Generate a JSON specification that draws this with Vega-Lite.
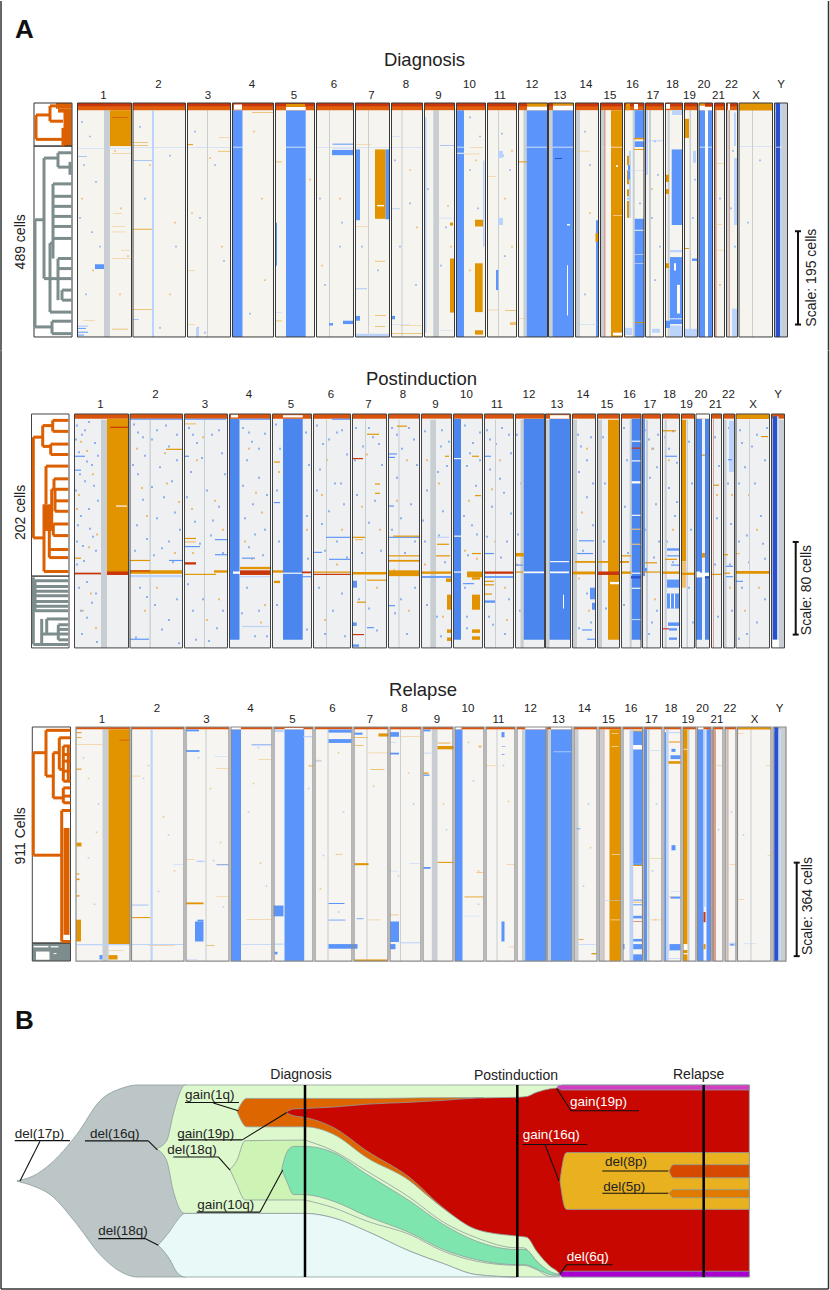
{"$schema":"https://vega.github.io/schema/vega-lite/v6.json","padding":0,"spacing":0,"bounds":"flush","background":"white",
"resolve":{"scale":{"color":"independent"}},
"config":{"view":{"stroke":null},"axis":{"disable":true},"legend":{"disable":true},"font":"Liberation Sans","text":{"color":"#222"}},
"datasets":{
"chroms":[{"n":"1","x":77.5,"x2":131.5,"t":1,"m":103.5},{"n":"2","x":133,"x2":185.5,"t":2,"m":158.5},{"n":"3","x":187.5,"x2":230.5,"t":1,"m":208},{"n":"4","x":232.5,"x2":273.5,"t":2,"m":252},{"n":"5","x":275.5,"x2":314.5,"t":1,"m":294},{"n":"6","x":316.5,"x2":353.5,"t":2,"m":334},{"n":"7","x":355.5,"x2":389.5,"t":1,"m":371.5},{"n":"8","x":391.5,"x2":422.5,"t":2,"m":406},{"n":"9","x":424.5,"x2":454.5,"t":1,"m":438.5},{"n":"10","x":456.5,"x2":485.5,"t":2,"m":469.5},{"n":"11","x":487.5,"x2":516.5,"t":1,"m":500},{"n":"12","x":518.5,"x2":547.5,"t":2,"m":532},{"n":"13","x":548.5,"x2":573.5,"t":1,"m":560},{"n":"14","x":575.5,"x2":598.5,"t":2,"m":586},{"n":"15","x":600.5,"x2":622.5,"t":1,"m":610},{"n":"16","x":624.5,"x2":644,"t":2,"m":632.5},{"n":"17","x":645.5,"x2":663.5,"t":1,"m":653},{"n":"18","x":665.5,"x2":682.5,"t":2,"m":672.5},{"n":"19","x":684.5,"x2":697.5,"t":1,"m":689.5},{"n":"20","x":699,"x2":712.5,"t":2,"m":704},{"n":"21","x":714.5,"x2":724.5,"t":1,"m":718.5},{"n":"22","x":726.5,"x2":737.5,"t":2,"m":731.5},{"n":"X","x":739,"x2":772.5,"t":1,"m":756},{"n":"Y","x":774.5,"x2":787.5,"t":2,"m":781}],
"cens":[{"x":104,"x2":110},{"x":152.5,"x2":153.8},{"x":207,"x2":208},{"x":329,"x2":330},{"x":368,"x2":369},{"x":401.5,"x2":402.5},{"x":433.3,"x2":439},{"x":498,"x2":499},{"x":523.5,"x2":526.7},{"x":548.5,"x2":552.5},{"x":575.5,"x2":580},{"x":600.5,"x2":605},{"x":632.7,"x2":634.7},{"x":649,"x2":651},{"x":667.7,"x2":669.7},{"x":689.5,"x2":691},{"x":726.5,"x2":729.5},{"x":752,"x2":753},{"x":774.5,"x2":775.7},{"x":782,"x2":787.5}],
"solids":[{"x":232.5,"x2":242.5},{"x":286,"x2":305.7},{"x":456.5,"x2":464},{"x":526.7,"x2":547.5},{"x":552.5,"x2":573.5},{"x":699,"x2":705},{"x":708,"x2":712.5}],
"fish":[
{"k":"grey","x":17,"y":49.9,"y2":50.1},{"k":"grey","x":33,"y":47.4,"y2":52.6},{"k":"grey","x":50,"y":41.3,"y2":57},{"k":"grey","x":77,"y":25.6,"y2":72.6},{"k":"grey","x":100,"y":8.2,"y2":88.3},{"k":"grey","x":123,"y":1.5,"y2":97.9},{"k":"grey","x":137,"y":0,"y2":100},{"k":"grey","x":186,"y":0,"y2":100},
{"k":"g1","x":156.7,"y":33.1,"y2":33.4},{"k":"g1","x":166.7,"y":29,"y2":39.5},{"k":"g1","x":173.3,"y":15.2,"y2":55.2},{"k":"g1","x":180,"y":3.8,"y2":64.8},{"k":"g1","x":185,"y":0,"y2":66.9},{"k":"g1","x":305,"y":0,"y2":66.9},{"k":"g1","x":333.3,"y":0,"y2":69.2},{"k":"g1","x":366.7,"y":0,"y2":76.1},{"k":"g1","x":410,"y":0,"y2":86.6},{"k":"g1","x":443.3,"y":0,"y2":93},{"k":"g1","x":476.7,"y":0,"y2":98.8},{"k":"g1","x":516.7,"y":0,"y2":100},{"k":"g1","x":560,"y":0,"y2":100},
{"k":"cy","x":158.3,"y":83.3,"y2":83.5},{"k":"cy","x":170,"y":76,"y2":91},{"k":"cy","x":176.7,"y":70.9,"y2":97.4},{"k":"cy","x":185,"y":66.9,"y2":100},{"k":"cy","x":305,"y":66.9,"y2":100},{"k":"cy","x":333.3,"y":69.2,"y2":100},{"k":"cy","x":366.7,"y":76.1,"y2":100},{"k":"cy","x":410,"y":86.6,"y2":100},{"k":"cy","x":443.3,"y":93,"y2":100},{"k":"cy","x":476.7,"y":98.8,"y2":100},{"k":"cy","x":516.7,"y":100,"y2":100},
{"k":"or","x":237.3,"y":13.6,"y2":14},{"k":"or","x":246.7,"y":7,"y2":21.8},{"k":"or","x":305,"y":7,"y2":21.8},{"k":"or","x":333.3,"y":7,"y2":25.6},{"k":"or","x":366.7,"y":7,"y2":37.8},{"k":"or","x":410,"y":6.8,"y2":50},{"k":"or","x":430,"y":6.7,"y2":58.7},{"k":"or","x":456.7,"y":6.6,"y2":69.2},{"k":"or","x":483.3,"y":6.6,"y2":76},
{"k":"g2","x":230,"y":43.9,"y2":44.1},{"k":"g2","x":236.7,"y":39.5,"y2":51.7},{"k":"g2","x":245,"y":29,"y2":59.9},{"k":"g2","x":305,"y":28.7,"y2":59.9},
{"k":"g3","x":305,"y":28.7,"y2":59.9},{"k":"g3","x":333.3,"y":34.3,"y2":63.9},{"k":"g3","x":366.7,"y":44.8,"y2":70.9},{"k":"g3","x":410,"y":58.7,"y2":77.9},{"k":"g3","x":443.3,"y":71.4,"y2":86.6},{"k":"g3","x":476.7,"y":79.6,"y2":91.8},{"k":"g3","x":516.7,"y":84.8,"y2":93.9},{"k":"g3","x":523.3,"y":84.8,"y2":93.9},{"k":"g3","x":536.7,"y":91.8,"y2":96.2},{"k":"g3","x":550,"y":97.9,"y2":99.7},{"k":"g3","x":560,"y":99,"y2":99.2},
{"k":"te","x":281.7,"y":43.9,"y2":44.1},{"k":"te","x":286.7,"y":35.2,"y2":50},{"k":"te","x":293.3,"y":32,"y2":57},{"k":"te","x":305,"y":32,"y2":57.1},{"k":"te","x":333.3,"y":35.2,"y2":60.5},{"k":"te","x":366.7,"y":46.5,"y2":68.3},{"k":"te","x":410,"y":60.5,"y2":77},{"k":"te","x":443.3,"y":72.6,"y2":85.7},{"k":"te","x":476.7,"y":81.4,"y2":91},{"k":"te","x":516.7,"y":85.7,"y2":93.6},{"k":"te","x":525,"y":85.7,"y2":93.6},{"k":"te","x":538.3,"y":92.7,"y2":96.2},{"k":"te","x":553.3,"y":97.9,"y2":99.1},{"k":"te","x":560,"y":98.6,"y2":98.9},
{"k":"re","x":286.7,"y":13.8,"y2":14.6},{"k":"re","x":293.3,"y":12.5,"y2":16},{"k":"re","x":305,"y":12.2,"y2":16.9},{"k":"re","x":333.3,"y":11.5,"y2":22.1},{"k":"re","x":366.7,"y":10,"y2":34.3},{"k":"re","x":410,"y":9,"y2":48.3},{"k":"re","x":443.3,"y":8,"y2":64},{"k":"re","x":476.7,"y":6.8,"y2":75.3},{"k":"re","x":516.7,"y":6.4,"y2":78.7},{"k":"re","x":526.7,"y":6,"y2":79.3},{"k":"re","x":536.7,"y":3.8,"y2":86.6},{"k":"re","x":550,"y":2,"y2":94.4},{"k":"re","x":558,"y":1.5,"y2":97.4},{"k":"re","x":562,"y":0,"y2":100},{"k":"re","x":749.3,"y":0,"y2":100},
{"k":"go","x":560,"y":49.9,"y2":50.1},{"k":"go","x":565,"y":36,"y2":64},{"k":"go","x":566.7,"y":35.2,"y2":64.8},{"k":"go","x":749.3,"y":35.2,"y2":64.8},
{"k":"d8","x":669.3,"y":44.6,"y2":45},{"k":"d8","x":673.3,"y":41.5,"y2":48.3},{"k":"d8","x":749.3,"y":41.5,"y2":48.3},
{"k":"d5","x":669.3,"y":56.3,"y2":56.5},{"k":"d5","x":673.3,"y":54.5,"y2":58.7},{"k":"d5","x":749.3,"y":54.5,"y2":58.7},
{"k":"pi","x":557,"y":0.9,"y2":1},{"k":"pi","x":562,"y":0,"y2":2.6},{"k":"pi","x":749.3,"y":0,"y2":2.6},
{"k":"pu","x":559,"y":98.3,"y2":98.4},{"k":"pu","x":563,"y":97,"y2":100},{"k":"pu","x":749.3,"y":97,"y2":100}],
"lead":[{"x":14.7,"x2":70,"y":29,"y2":29},{"x":40,"x2":20,"y":29.3,"y2":50},{"x":85,"x2":148.3,"y":29.1,"y2":29.1},{"x":148.3,"x2":157.3,"y":29.1,"y2":33.8},{"x":98.3,"x2":145,"y":80,"y2":80},{"x":145,"x2":158.3,"y":80,"y2":83.5},{"x":185,"x2":239,"y":9.1,"y2":9.1},{"x":213.3,"x2":238.3,"y":9.4,"y2":13.4},{"x":178.3,"x2":242.3,"y":28.6,"y2":28.6},{"x":242.3,"x2":286.7,"y":28.6,"y2":14.3},{"x":173.3,"x2":218.3,"y":37.5,"y2":37.5},{"x":218.3,"x2":230,"y":37.5,"y2":44.3},{"x":196.7,"x2":260,"y":66.2,"y2":66.2},{"x":260,"x2":282.7,"y":66.2,"y2":44.3},{"x":571,"x2":639,"y":13.4,"y2":13.4},{"x":571,"x2":556.7,"y":13.4,"y2":1.8},{"x":522.7,"x2":587.3,"y":31,"y2":31},{"x":545,"x2":559,"y":31,"y2":50},{"x":602.3,"x2":668.3,"y":44.8,"y2":44.8},{"x":602.3,"x2":668.3,"y":56.4,"y2":56.4},{"x":566.7,"x2":612.7,"y":93.6,"y2":93.6},{"x":566.7,"x2":560,"y":93.6,"y2":98.4}]
},
"vconcat":[
{"width":830,"height":350,"layer":[
{"data":{"name":"chroms"},"mark":{"type":"rect","fill":"#f5f4ef"},"encoding":{"x":{"field":"x","type":"quantitative","scale":{"domain":[0,830],"nice":false,"zero":false}},"x2":{"field":"x2"},"y":{"datum":0,"scale":{"domain":[518.3,-213.2],"nice":false,"zero":false}},"y2":{"datum":489}}},
{"data":{"values":[{"x":82,"y":40},{"x":90,"y":70},{"x":84,"y":130},{"x":96,"y":165},{"x":80,"y":240},{"x":92,"y":270},{"x":100,"y":300},{"x":86,"y":400},{"x":140,"y":50},{"x":170,"y":110},{"x":145,"y":200},{"x":176,"y":300},{"x":160,"y":470},{"x":195,"y":60},{"x":215,"y":130},{"x":200,"y":240},{"x":224,"y":330},{"x":198,"y":470},{"x":205,"y":480},{"x":250,"y":440},{"x":320,"y":200},{"x":342,"y":250},{"x":325,"y":380},{"x":340,"y":300},{"x":362,"y":300},{"x":378,"y":350},{"x":395,"y":120},{"x":410,"y":210},{"x":416,"y":380},{"x":400,"y":300},{"x":428,"y":180},{"x":446,"y":260},{"x":441,"y":340},{"x":470,"y":140},{"x":478,"y":220},{"x":480,"y":70},{"x":470,"y":30},{"x":502,"y":64},{"x":503,"y":110},{"x":500,"y":250},{"x":505,"y":320},{"x":510,"y":140},{"x":585,"y":60},{"x":590,"y":130},{"x":585,"y":400},{"x":628,"y":200},{"x":640,"y":210},{"x":655,"y":80},{"x":658,"y":150},{"x":652,"y":240},{"x":660,"y":300},{"x":655,"y":370},{"x":650,"y":470},{"x":695,"y":160},{"x":693,"y":240},{"x":720,"y":200},{"x":733,"y":100},{"x":735,"y":150},{"x":731,"y":220},{"x":735,"y":300},{"x":748,"y":250},{"x":760,"y":120}]},"mark":{"type":"square","size":3,"color":"#7fa8f5","opacity":0.8},"encoding":{"x":{"field":"x","type":"quantitative"},"y":{"field":"y","type":"quantitative"}}},
{"data":{"values":[{"x":115,"y":100},{"x":121,"y":220},{"x":128,"y":320},{"x":120,"y":400},{"x":93,"y":350},{"x":82,"y":200},{"x":150,"y":130},{"x":175,"y":250},{"x":170,"y":400},{"x":210,"y":115},{"x":192,"y":230},{"x":222,"y":300},{"x":254,"y":60},{"x":262,"y":200},{"x":265,"y":370},{"x":310,"y":160},{"x":340,"y":200},{"x":322,"y":340},{"x":410,"y":140},{"x":417,"y":260},{"x":448,"y":215},{"x":451,"y":300},{"x":476,"y":120},{"x":470,"y":350},{"x":505,"y":200},{"x":512,"y":100},{"x":512,"y":300},{"x":590,"y":230},{"x":652,"y":180},{"x":720,"y":380}]},"mark":{"type":"square","size":3,"color":"#efb566","opacity":0.85},"encoding":{"x":{"field":"x","type":"quantitative"},"y":{"field":"y","type":"quantitative"}}},
{"data":{"name":"cens"},"mark":{"type":"rect","fill":"#c8ced2"},"encoding":{"x":{"field":"x","type":"quantitative"},"x2":{"field":"x2"},"y":{"datum":15},"y2":{"datum":489}}},
{"data":{"name":"solids"},"mark":{"type":"rect","fill":"#5b95fb"},"encoding":{"x":{"field":"x","type":"quantitative"},"x2":{"field":"x2"},"y":{"datum":15},"y2":{"datum":489}}},
{"data":{"name":"chroms"},"mark":{"type":"rect","fill":"#e0600e"},"encoding":{"x":{"field":"x","type":"quantitative"},"x2":{"field":"x2"},"y":{"datum":0},"y2":{"datum":15}}},
{"data":{"name":"chroms"},"mark":{"type":"rect","fill":"#c9360a"},"encoding":{"x":{"field":"x","type":"quantitative"},"x2":{"field":"x2"},"y":{"datum":0},"y2":{"datum":7}}},
{"data":{"values":[
{"s":"W","x":234,"x2":242,"y":3,"y2":14},{"s":"W","x":286,"x2":305.7,"y":8,"y2":15},{"s":"G","x":286,"x2":305,"y":2,"y2":8},{"s":"W","x":527,"x2":547.5,"y":7,"y2":15},{"s":"G","x":527,"x2":547.5,"y":0,"y2":7},{"s":"W","x":553,"x2":573.5,"y":5,"y2":15},{"s":"G","x":553,"x2":573.5,"y":0,"y2":5},{"s":"G","x":739,"x2":772.5,"y":0,"y2":15},{"s":"W","x":699,"x2":705,"y":5,"y2":15},{"s":"G","x":699,"x2":705,"y":0,"y2":5},{"s":"W","x":705,"x2":712.5,"y":8,"y2":15},{"s":"G","x":626,"x2":630,"y":0,"y2":15},{"s":"W","x":634,"x2":638,"y":2,"y2":13},{"s":"W","x":666,"x2":670,"y":2,"y2":12},{"s":"W","x":728,"x2":730,"y":0,"y2":15},
{"s":"G","x":611,"x2":622.3,"y":15,"y2":489},{"s":"G","x":110,"x2":131.5,"y":15,"y2":90},{"s":"A","x":112,"x2":128,"y":30,"y2":31},
{"s":"W","x":232.5,"x2":242.5,"y":91.5,"y2":93},{"s":"W","x":286,"x2":305.7,"y":91.5,"y2":93},{"s":"W","x":456.5,"x2":464,"y":91.5,"y2":93},{"s":"W","x":526.7,"x2":547.5,"y":91.5,"y2":93},{"s":"W","x":552.5,"x2":573.5,"y":91.5,"y2":93},{"s":"W","x":603,"x2":622.3,"y":91.5,"y2":93},{"s":"W","x":699,"x2":712.5,"y":91.5,"y2":93},{"s":"W","x":776,"x2":782,"y":91.5,"y2":93},{"s":"l","x":739,"x2":772,"y":91,"y2":92},{"s":"l","x":77.5,"x2":131,"y":95,"y2":96},{"s":"l","x":133,"x2":230,"y":92,"y2":93},{"s":"l","x":316,"x2":422,"y":93,"y2":94},
{"s":"L","x":95,"x2":104,"y":337,"y2":347},{"s":"l","x":77.5,"x2":88,"y":465,"y2":468},{"s":"L","x":78,"x2":86,"y":470,"y2":472},{"s":"L","x":78,"x2":88,"y":478,"y2":480},{"s":"L","x":78,"x2":84,"y":484,"y2":486},{"s":"L","x":77.5,"x2":87,"y":111,"y2":112},{"s":"o","x":112,"x2":131,"y":105,"y2":106},{"s":"o","x":113,"x2":122,"y":230,"y2":231},{"s":"o","x":112,"x2":125,"y":258,"y2":259},{"s":"o","x":112,"x2":126,"y":269,"y2":270},{"s":"o","x":121,"x2":130,"y":307,"y2":308},{"s":"o","x":112,"x2":131,"y":325,"y2":326},{"s":"G","x":112,"x2":128,"y":472,"y2":473},{"s":"o","x":83,"x2":95,"y":454,"y2":455},
{"s":"G","x":133,"x2":148,"y":82,"y2":83},{"s":"G","x":133,"x2":148,"y":88,"y2":89},{"s":"L","x":133,"x2":152,"y":120,"y2":121},{"s":"G","x":133,"x2":152,"y":263,"y2":264.5},{"s":"G","x":133,"x2":153,"y":431,"y2":432},{"s":"L","x":133,"x2":139,"y":452,"y2":453},{"s":"l","x":152,"x2":154,"y":15,"y2":489},
{"s":"G","x":188,"x2":193,"y":86,"y2":88},{"s":"o","x":219,"x2":230,"y":72,"y2":73},{"s":"o","x":218,"x2":230,"y":100,"y2":102},{"s":"o","x":188,"x2":195,"y":350,"y2":351},{"s":"o","x":188,"x2":195,"y":462,"y2":463},{"s":"l","x":196,"x2":199,"y":470,"y2":489},{"s":"G","x":252,"x2":273,"y":19,"y2":20},{"s":"o","x":276,"x2":282,"y":122,"y2":124},{"s":"G","x":276,"x2":282,"y":455,"y2":456},{"s":"l","x":276,"x2":282,"y":437,"y2":438},{"s":"L","x":276,"x2":277,"y":250,"y2":340},
{"s":"L","x":332,"x2":353.5,"y":98,"y2":109},{"s":"L","x":332.5,"x2":353.5,"y":85,"y2":87},{"s":"l","x":333,"x2":353,"y":94,"y2":95},{"s":"L","x":329,"x2":333,"y":460,"y2":465},{"s":"L","x":343,"x2":353,"y":455,"y2":462},
{"s":"L","x":355.5,"x2":360,"y":97,"y2":245},{"s":"G","x":375,"x2":385.7,"y":97,"y2":242},{"s":"L","x":385.7,"x2":389.7,"y":97,"y2":243},{"s":"W","x":377,"x2":384,"y":213,"y2":216},{"s":"o","x":356,"x2":371,"y":86,"y2":87},{"s":"L","x":355.5,"x2":360,"y":445,"y2":455},{"s":"L","x":356,"x2":367,"y":388,"y2":389},{"s":"G","x":375,"x2":385,"y":330,"y2":331},{"s":"o","x":375,"x2":386,"y":443,"y2":445},{"s":"G","x":375,"x2":385,"y":467,"y2":468},{"s":"l","x":355.5,"x2":389,"y":482,"y2":489},{"s":"o","x":355.5,"x2":369,"y":257,"y2":258},
{"s":"L","x":391.5,"x2":395,"y":445,"y2":452},{"s":"l","x":392,"x2":400,"y":69,"y2":70},{"s":"l","x":392,"x2":410,"y":462,"y2":463},{"s":"o","x":400,"x2":422,"y":465,"y2":466},{"s":"G","x":392,"x2":422,"y":481,"y2":482},{"s":"l","x":391.5,"x2":400,"y":220,"y2":222},
{"s":"L","x":440,"x2":454,"y":88,"y2":89},{"s":"l","x":439,"x2":454,"y":240,"y2":241},{"s":"l","x":440,"x2":452,"y":475,"y2":476},{"s":"G","x":450,"x2":454,"y":325,"y2":438},{"s":"G","x":450,"x2":453,"y":250,"y2":256},{"s":"l","x":425,"x2":426.5,"y":30,"y2":480},
{"s":"G","x":475,"x2":482.7,"y":335,"y2":437},{"s":"G","x":475,"x2":483,"y":244,"y2":258},{"s":"G","x":475,"x2":483,"y":475,"y2":484},{"s":"o","x":464,"x2":480,"y":106,"y2":107},{"s":"o","x":470,"x2":483,"y":92,"y2":93},{"s":"W","x":457,"x2":464,"y":104,"y2":106},{"s":"l","x":483,"x2":484.5,"y":120,"y2":300},
{"s":"L","x":496,"x2":498.3,"y":349,"y2":391},{"s":"o","x":487.5,"x2":496,"y":153,"y2":154},{"s":"G","x":505,"x2":516,"y":433,"y2":434},{"s":"o","x":510,"x2":516,"y":458,"y2":464},{"s":"o","x":488,"x2":498,"y":432,"y2":433},{"s":"l","x":498,"x2":503,"y":240,"y2":255},{"s":"l","x":498,"x2":503,"y":100,"y2":115},
{"s":"G","x":518.5,"x2":527,"y":122,"y2":124},{"s":"o","x":518.5,"x2":526,"y":450,"y2":451},{"s":"W","x":567,"x2":568,"y":339,"y2":444},{"s":"W","x":567,"x2":570,"y":253,"y2":256},{"s":"D","x":555,"x2":562,"y":115,"y2":117},
{"s":"L","x":596,"x2":598.3,"y":245,"y2":489},{"s":"G","x":595.5,"x2":598,"y":272,"y2":290},{"s":"o","x":576,"x2":590,"y":100,"y2":101},{"s":"l","x":580,"x2":597,"y":462,"y2":463},
{"s":"W","x":616,"x2":618,"y":130,"y2":134},{"s":"W","x":613,"x2":622,"y":235,"y2":236},{"s":"W","x":613,"x2":622,"y":480,"y2":486},{"s":"M","x":604,"x2":605.5,"y":15,"y2":489},
{"s":"L","x":634.7,"x2":644,"y":15,"y2":73},{"s":"G","x":634,"x2":644,"y":73,"y2":76},{"s":"L","x":634.7,"x2":644,"y":80,"y2":92},{"s":"G","x":634,"x2":644,"y":96,"y2":98},{"s":"L","x":634.7,"x2":644,"y":242,"y2":489},{"s":"W","x":634.7,"x2":644,"y":265,"y2":267},{"s":"W","x":634.7,"x2":644,"y":316,"y2":317},{"s":"W","x":634.7,"x2":644,"y":335,"y2":336},{"s":"G","x":634.7,"x2":644,"y":458,"y2":460},{"s":"l","x":629,"x2":631,"y":100,"y2":240},{"s":"G","x":627,"x2":629,"y":110,"y2":130},{"s":"G","x":627,"x2":629,"y":140,"y2":170},{"s":"G","x":627,"x2":629,"y":180,"y2":195},{"s":"G","x":627,"x2":629,"y":205,"y2":240},{"s":"L","x":628,"x2":630,"y":130,"y2":160},{"s":"l","x":626,"x2":644,"y":140,"y2":141},{"s":"l","x":625,"x2":632,"y":470,"y2":485},
{"s":"l","x":645.5,"x2":648,"y":15,"y2":150},{"s":"l","x":652,"x2":660,"y":472,"y2":480},{"s":"l","x":645.5,"x2":663,"y":78,"y2":80},
{"s":"L","x":671.7,"x2":682.7,"y":97,"y2":255},{"s":"L","x":670,"x2":682.7,"y":322,"y2":450},{"s":"L","x":670,"x2":682.7,"y":452,"y2":462},{"s":"l","x":670,"x2":682.7,"y":465,"y2":489},{"s":"W","x":677,"x2":680,"y":380,"y2":440},{"s":"l","x":670,"x2":682,"y":307,"y2":312},{"s":"G","x":666,"x2":669,"y":335,"y2":345},{"s":"G","x":666,"x2":669,"y":150,"y2":165},{"s":"G","x":666,"x2":669,"y":180,"y2":190},{"s":"l","x":672,"x2":682,"y":15,"y2":25},{"s":"W","x":674,"x2":676,"y":335,"y2":350},{"s":"L","x":666,"x2":670,"y":455,"y2":470},
{"s":"G","x":685,"x2":689,"y":33,"y2":73},{"s":"G","x":685,"x2":689,"y":303,"y2":305},{"s":"l","x":693,"x2":696,"y":100,"y2":125},{"s":"L","x":692,"x2":697,"y":325,"y2":330},{"s":"l","x":685,"x2":697,"y":472,"y2":489},{"s":"G","x":705,"x2":707,"y":440,"y2":446},{"s":"W","x":705,"x2":708,"y":15,"y2":489},{"s":"M","x":714.5,"x2":716.7,"y":15,"y2":489},{"s":"o","x":717,"x2":724,"y":126,"y2":127},{"s":"o","x":717,"x2":724,"y":307,"y2":308},{"s":"o","x":717,"x2":722,"y":254,"y2":255},{"s":"M","x":729,"x2":730,"y":15,"y2":489},{"s":"l","x":734,"x2":737,"y":115,"y2":255},{"s":"l","x":732,"x2":737,"y":430,"y2":489},{"s":"l","x":734,"x2":736,"y":20,"y2":90},
{"s":"D","x":775.7,"x2":780,"y":0,"y2":489},{"s":"l","x":780,"x2":782,"y":0,"y2":489},{"s":"C","x":782,"x2":787.5,"y":0,"y2":20},{"s":"C","x":774.5,"x2":775.7,"y":0,"y2":20},{"s":"W","x":776,"x2":782,"y":91.5,"y2":93}
]},"mark":{"type":"rect"},"encoding":{"x":{"field":"x","type":"quantitative"},"x2":{"field":"x2"},"y":{"field":"y","type":"quantitative"},"y2":{"field":"y2"},"color":{"field":"s","type":"nominal","scale":{"domain":["L","P","G","A","W","D","l","o","M","C","tO","tG"],"range":["#5b95fb","#4a86ee","#e29300","#c9360a","#fdfdfb","#2a50cc","#bcd3fb","#f0bf74","#d8a090","#c8ced2","#dc5f00","#7d8c8c"]}}}},
{"data":{"name":"chroms"},"mark":{"type":"rect","fill":null,"stroke":"#3a3a3a","strokeWidth":1},"encoding":{"x":{"field":"x","type":"quantitative"},"x2":{"field":"x2"},"y":{"datum":0},"y2":{"datum":489}}},
{"data":{"values":[{"s":"tO","x":56,"x2":71.7,"y":0,"y2":12},{"s":"tO","x":63.5,"x2":71.7,"y":12,"y2":90},{"s":"tO","x":58,"x2":64,"y":12,"y2":20}]},"mark":{"type":"rect"},"encoding":{"x":{"field":"x","type":"quantitative"},"x2":{"field":"x2"},"y":{"field":"y","type":"quantitative"},"y2":{"field":"y2"},"color":{"field":"s","type":"nominal"}}},
{"data":{"values":[{"y":0,"y2":90},{"y":90,"y2":489}]},"mark":{"type":"rect","fill":null,"stroke":"#333","strokeWidth":1},"encoding":{"x":{"datum":34},"x2":{"datum":72},"y":{"field":"y","type":"quantitative"},"y2":{"field":"y2"}}},
{"data":{"values":[{"s":"tO","x":36,"x2":36,"y":25,"y2":76},{"s":"tO","x":36,"x2":50,"y":25,"y2":25},{"s":"tO","x":50,"x2":50,"y":6,"y2":38},{"s":"tO","x":50,"x2":71,"y":6,"y2":6},{"s":"tO","x":50,"x2":63,"y":38,"y2":38},{"s":"tO","x":36,"x2":63,"y":76,"y2":76},{"s":"tO","x":63,"x2":63,"y":52,"y2":90},
{"s":"tG","x":35,"x2":35,"y":244,"y2":468},{"s":"tG","x":35,"x2":44,"y":244,"y2":244},{"s":"tG","x":44,"x2":44,"y":115,"y2":367},{"s":"tG","x":44,"x2":58,"y":115,"y2":115},{"s":"tG","x":58,"x2":58,"y":104,"y2":134},{"s":"tG","x":58,"x2":71.7,"y":104,"y2":104},{"s":"tG","x":58,"x2":71.7,"y":134,"y2":134},{"s":"tG","x":70,"x2":70,"y":123,"y2":150},{"s":"tG","x":44,"x2":57,"y":367,"y2":367},{"s":"tG","x":53,"x2":53,"y":169,"y2":325},{"s":"tG","x":53,"x2":71.7,"y":169,"y2":169},{"s":"tG","x":53,"x2":71.7,"y":195,"y2":195},{"s":"tG","x":53,"x2":71.7,"y":216,"y2":216},{"s":"tG","x":53,"x2":71.7,"y":237,"y2":237},{"s":"tG","x":53,"x2":71.7,"y":258,"y2":258},{"s":"tG","x":53,"x2":71.7,"y":283,"y2":283},{"s":"tG","x":50,"x2":50,"y":293,"y2":437},{"s":"tG","x":50,"x2":53,"y":293,"y2":293},{"s":"tG","x":50,"x2":71.7,"y":437,"y2":437},{"s":"tG","x":58,"x2":58,"y":325,"y2":412},{"s":"tG","x":58,"x2":71.7,"y":325,"y2":325},{"s":"tG","x":58,"x2":71.7,"y":346,"y2":346},{"s":"tG","x":58,"x2":71.7,"y":367,"y2":367},{"s":"tG","x":62,"x2":62,"y":391,"y2":412},{"s":"tG","x":62,"x2":71.7,"y":391,"y2":391},{"s":"tG","x":62,"x2":71.7,"y":412,"y2":412},{"s":"tG","x":35,"x2":52,"y":468,"y2":468},{"s":"tG","x":52,"x2":52,"y":456,"y2":482},{"s":"tG","x":52,"x2":71.7,"y":456,"y2":456},{"s":"tG","x":52,"x2":71.7,"y":482,"y2":482}]},"mark":{"type":"rule","size":3},"encoding":{"x":{"field":"x","type":"quantitative"},"x2":{"field":"x2"},"y":{"field":"y","type":"quantitative"},"y2":{"field":"y2"},"color":{"field":"s","type":"nominal"}}},
{"data":{"name":"chroms"},"transform":[{"filter":"datum.t==1"}],"mark":{"type":"text","fontSize":11.5},"encoding":{"x":{"field":"m","type":"quantitative"},"y":{"datum":-14.6},"text":{"field":"n"}}},
{"data":{"name":"chroms"},"transform":[{"filter":"datum.t==2"}],"mark":{"type":"text","fontSize":11.5},"encoding":{"x":{"field":"m","type":"quantitative"},"y":{"datum":-37.6},"text":{"field":"n"}}},
{"data":{"values":[{"t":"Diagnosis"}]},"mark":{"type":"text","fontSize":18.5},"encoding":{"x":{"datum":424.5},"y":{"datum":-90},"text":{"field":"t"}}},
{"data":{"values":[{"t":"A"}]},"mark":{"type":"text","fontSize":26,"fontWeight":"bold","align":"left","color":"#111"},"encoding":{"x":{"datum":15},"y":{"datum":-152.6},"text":{"field":"t"}}},
{"data":{"values":[{"t":"489 cells"}]},"mark":{"type":"text","fontSize":14,"angle":270},"encoding":{"x":{"datum":21},"y":{"datum":290},"text":{"field":"t"}}},
{"data":{"values":[{"t":"Scale: 195 cells"}]},"mark":{"type":"text","fontSize":14,"angle":270},"encoding":{"x":{"datum":811.7},"y":{"datum":365},"text":{"field":"t"}}},
{"data":{"values":[{"x":798,"x2":798,"y":268,"y2":463},{"x":795,"x2":801,"y":268,"y2":268},{"x":795,"x2":801,"y":463,"y2":463}]},"mark":{"type":"rule","size":2,"color":"#111"},"encoding":{"x":{"field":"x","type":"quantitative"},"x2":{"field":"x2"},"y":{"field":"y","type":"quantitative"},"y2":{"field":"y2"}}},
{"data":{"values":[{"x":1,"y":-213,"y2":518},{"x":828.5,"y":-213,"y2":518}]},"mark":{"type":"rule","size":1.5,"color":"#333"},"encoding":{"x":{"field":"x","type":"quantitative"},"y":{"field":"y","type":"quantitative"},"y2":{"field":"y2"}}}
]},
{"width":830,"height":310,"layer":[
{"data":{"name":"chroms"},"mark":{"type":"rect","fill":"#eef0f1"},"encoding":{"x":{"field":"x","type":"quantitative","scale":{"domain":[3,833],"nice":false,"zero":false}},"x2":{"field":"x2"},"y":{"datum":0,"scale":{"domain":[213.3,-54.4],"nice":false,"zero":false}},"y2":{"datum":202}}},
{"data":{"values":[{"x":80,"y":10},{"x":85,"y":18},{"x":92,"y":7},{"x":98,"y":25},{"x":82,"y":33},{"x":95,"y":44},{"x":88,"y":58},{"x":79,"y":66},{"x":101,"y":75},{"x":84,"y":88},{"x":93,"y":99},{"x":80,"y":110},{"x":99,"y":118},{"x":87,"y":127},{"x":82,"y":150},{"x":95,"y":163},{"x":90,"y":176},{"x":85,"y":190},{"x":100,"y":197},{"x":137,"y":9},{"x":146,"y":20},{"x":160,"y":14},{"x":172,"y":28},{"x":180,"y":40},{"x":141,"y":52},{"x":155,"y":63},{"x":167,"y":72},{"x":178,"y":85},{"x":140,"y":96},{"x":150,"y":108},{"x":165,"y":116},{"x":176,"y":128},{"x":143,"y":150},{"x":158,"y":165},{"x":172,"y":178},{"x":139,"y":193},{"x":182,"y":198},{"x":192,"y":12},{"x":200,"y":25},{"x":215,"y":18},{"x":225,"y":34},{"x":194,"y":50},{"x":210,"y":66},{"x":222,"y":80},{"x":198,"y":93},{"x":214,"y":105},{"x":226,"y":120},{"x":191,"y":147},{"x":206,"y":160},{"x":220,"y":185},{"x":199,"y":195},{"x":246,"y":12},{"x":255,"y":24},{"x":268,"y":17},{"x":250,"y":40},{"x":262,"y":55},{"x":270,"y":70},{"x":248,"y":90},{"x":258,"y":104},{"x":266,"y":122},{"x":250,"y":150},{"x":262,"y":170},{"x":270,"y":192},{"x":279,"y":9},{"x":283,"y":30},{"x":309,"y":16},{"x":312,"y":44},{"x":280,"y":66},{"x":310,"y":88},{"x":282,"y":110},{"x":311,"y":125},{"x":280,"y":165},{"x":310,"y":186},{"x":320,"y":10},{"x":332,"y":22},{"x":345,"y":14},{"x":350,"y":35},{"x":323,"y":48},{"x":338,"y":60},{"x":347,"y":78},{"x":325,"y":95},{"x":340,"y":110},{"x":350,"y":124},{"x":322,"y":150},{"x":336,"y":170},{"x":348,"y":192},{"x":359,"y":12},{"x":366,"y":28},{"x":376,"y":20},{"x":385,"y":44},{"x":360,"y":70},{"x":372,"y":94},{"x":384,"y":118},{"x":362,"y":160},{"x":380,"y":187},{"x":395,"y":12},{"x":405,"y":30},{"x":417,"y":22},{"x":400,"y":55},{"x":414,"y":78},{"x":395,"y":100},{"x":408,"y":120},{"x":418,"y":150},{"x":398,"y":172},{"x":410,"y":190},{"x":428,"y":15},{"x":444,"y":28},{"x":450,"y":45},{"x":430,"y":66},{"x":446,"y":84},{"x":428,"y":110},{"x":448,"y":128},{"x":430,"y":165},{"x":444,"y":192},{"x":468,"y":10},{"x":476,"y":25},{"x":483,"y":16},{"x":470,"y":45},{"x":479,"y":62},{"x":467,"y":88},{"x":480,"y":104},{"x":471,"y":122},{"x":468,"y":150},{"x":470,"y":185},{"x":490,"y":14},{"x":499,"y":26},{"x":512,"y":18},{"x":493,"y":48},{"x":507,"y":68},{"x":514,"y":86},{"x":490,"y":106},{"x":504,"y":124},{"x":512,"y":160},{"x":496,"y":182},{"x":520,"y":18},{"x":524,"y":60},{"x":521,"y":104},{"x":523,"y":170},{"x":578,"y":14},{"x":584,"y":28},{"x":594,"y":20},{"x":582,"y":50},{"x":590,"y":72},{"x":596,"y":96},{"x":586,"y":118},{"x":590,"y":155},{"x":582,"y":185},{"x":606,"y":20},{"x":608,"y":60},{"x":607,"y":110},{"x":609,"y":168},{"x":627,"y":12},{"x":630,"y":40},{"x":628,"y":80},{"x":631,"y":120},{"x":627,"y":165},{"x":648,"y":14},{"x":656,"y":30},{"x":661,"y":18},{"x":653,"y":55},{"x":659,"y":78},{"x":648,"y":100},{"x":657,"y":124},{"x":660,"y":170},{"x":652,"y":190},{"x":668,"y":20},{"x":676,"y":15},{"x":680,"y":42},{"x":672,"y":64},{"x":678,"y":88},{"x":670,"y":110},{"x":676,"y":128},{"x":692,"y":24},{"x":695,"y":60},{"x":694,"y":100},{"x":692,"y":150},{"x":696,"y":180},{"x":718,"y":20},{"x":722,"y":45},{"x":720,"y":90},{"x":718,"y":130},{"x":721,"y":175},{"x":732,"y":12},{"x":735,"y":30},{"x":731,"y":60},{"x":734,"y":95},{"x":733,"y":130},{"x":735,"y":170},{"x":745,"y":25},{"x":760,"y":18},{"x":768,"y":40},{"x":742,"y":60},{"x":764,"y":88},{"x":750,"y":105},{"x":768,"y":125},{"x":745,"y":150},{"x":760,"y":180},{"x":742,"y":194},
{"x":88,"y":14},{"x":79,"y":22},{"x":101,"y":36},{"x":90,"y":41},{"x":83,"y":52},{"x":97,"y":62},{"x":92,"y":82},{"x":81,"y":96},{"x":96,"y":106},{"x":86,"y":114},{"x":80,"y":130},{"x":90,"y":145},{"x":99,"y":155},{"x":84,"y":170},{"x":141,"y":16},{"x":155,"y":22},{"x":169,"y":10},{"x":180,"y":18},{"x":148,"y":36},{"x":136,"y":44},{"x":163,"y":46},{"x":175,"y":58},{"x":146,"y":74},{"x":160,"y":90},{"x":183,"y":100},{"x":138,"y":118},{"x":157,"y":122},{"x":172,"y":110},{"x":150,"y":158},{"x":165,"y":186},{"x":180,"y":160},{"x":196,"y":18},{"x":222,"y":14},{"x":205,"y":38},{"x":228,"y":52},{"x":190,"y":72},{"x":216,"y":92},{"x":203,"y":112},{"x":196,"y":170},{"x":226,"y":170},{"x":212,"y":196},{"x":252,"y":16},{"x":262,"y":30},{"x":246,"y":62},{"x":256,"y":78},{"x":268,"y":100},{"x":252,"y":115},{"x":245,"y":172},{"x":258,"y":192},{"x":326,"y":26},{"x":340,"y":16},{"x":320,"y":66},{"x":332,"y":84},{"x":344,"y":60},{"x":328,"y":118},{"x":345,"y":155},{"x":328,"y":190},{"x":372,"y":12},{"x":382,"y":26},{"x":358,"y":40},{"x":378,"y":75},{"x":365,"y":120},{"x":372,"y":168},{"x":400,"y":18},{"x":412,"y":12},{"x":420,"y":44},{"x":404,"y":90},{"x":418,"y":110},{"x":404,"y":160},{"x":445,"y":14},{"x":452,"y":24},{"x":441,"y":50},{"x":426,"y":92},{"x":442,"y":105},{"x":440,"y":175},{"x":473,"y":34},{"x":483,"y":40},{"x":475,"y":96},{"x":470,"y":175},{"x":493,"y":22},{"x":505,"y":12},{"x":514,"y":34},{"x":503,"y":56},{"x":495,"y":80},{"x":510,"y":110},{"x":492,"y":175},{"x":508,"y":190},{"x":581,"y":18},{"x":590,"y":40},{"x":596,"y":60},{"x":580,"y":100},{"x":594,"y":180},{"x":652,"y":22},{"x":660,"y":46},{"x":650,"y":90},{"x":662,"y":110},{"x":655,"y":180},{"x":672,"y":30},{"x":680,"y":76},{"x":743,"y":14},{"x":755,"y":28},{"x":770,"y":12},{"x":748,"y":46},{"x":758,"y":60},{"x":742,"y":110},{"x":766,"y":112},{"x":752,"y":128},{"x":768,"y":160},{"x":750,"y":190}]},"mark":{"type":"square","size":4,"color":"#7fa4ec","opacity":0.85},"encoding":{"x":{"field":"x","type":"quantitative"},"y":{"field":"y","type":"quantitative"}}},
{"data":{"values":[{"x":84,"y":24},{"x":96,"y":52},{"x":80,"y":82},{"x":92,"y":115},{"x":86,"y":170},{"x":99,"y":185},{"x":140,"y":30},{"x":170,"y":60},{"x":150,"y":88},{"x":178,"y":120},{"x":148,"y":170},{"x":200,"y":40},{"x":218,"y":75},{"x":196,"y":120},{"x":210,"y":178},{"x":252,"y":30},{"x":265,"y":85},{"x":255,"y":125},{"x":264,"y":180},{"x":282,"y":50},{"x":310,"y":100},{"x":330,"y":40},{"x":345,"y":100},{"x":328,"y":178},{"x":370,"y":35},{"x":380,"y":150},{"x":400,"y":75},{"x":412,"y":170},{"x":442,"y":60},{"x":428,"y":130},{"x":472,"y":75},{"x":480,"y":125},{"x":503,"y":40},{"x":498,"y":110},{"x":510,"y":178},{"x":520,"y":130},{"x":585,"y":85},{"x":592,"y":170},{"x":650,"y":70},{"x":658,"y":160},{"x":672,"y":40},{"x":720,"y":70},{"x":733,"y":150},{"x":752,"y":70},{"x":762,"y":150},{"x":90,"y":32},{"x":82,"y":70},{"x":100,"y":104},{"x":94,"y":155},{"x":145,"y":64},{"x":168,"y":34},{"x":182,"y":76},{"x":160,"y":150},{"x":206,"y":20},{"x":195,"y":82},{"x":226,"y":100},{"x":222,"y":160},{"x":259,"y":68},{"x":248,"y":110},{"x":268,"y":165},{"x":325,"y":70},{"x":340,"y":130},{"x":365,"y":80},{"x":383,"y":100},{"x":410,"y":40},{"x":397,"y":135},{"x":430,"y":40},{"x":446,"y":175},{"x":468,"y":118},{"x":495,"y":65},{"x":508,"y":150},{"x":590,"y":30},{"x":582,"y":142},{"x":655,"y":30},{"x":676,"y":100},{"x":735,"y":70},{"x":760,"y":100},{"x":748,"y":170}]},"mark":{"type":"square","size":4,"color":"#efb566","opacity":0.9},"encoding":{"x":{"field":"x","type":"quantitative"},"y":{"field":"y","type":"quantitative"}}},
{"data":{"name":"cens"},"mark":{"type":"rect","fill":"#c8ced2"},"encoding":{"x":{"field":"x","type":"quantitative"},"x2":{"field":"x2"},"y":{"datum":5},"y2":{"datum":202}}},
{"data":{"name":"solids"},"mark":{"type":"rect","fill":"#4a86ee"},"encoding":{"x":{"field":"x","type":"quantitative"},"x2":{"field":"x2"},"y":{"datum":4},"y2":{"datum":195}}},
{"data":{"name":"chroms"},"mark":{"type":"rect","fill":"#d9540c"},"encoding":{"x":{"field":"x","type":"quantitative"},"x2":{"field":"x2"},"y":{"datum":0},"y2":{"datum":4}}},
{"data":{"values":[
{"s":"G","x":739,"x2":772.5,"y":0,"y2":4},{"s":"W","x":286,"x2":305.7,"y":1,"y2":3},{"s":"W","x":553,"x2":572,"y":1,"y2":4},{"s":"W","x":234,"x2":241,"y":0.5,"y2":3},{"s":"W","x":699,"x2":712.5,"y":0,"y2":4},
{"s":"G","x":110,"x2":131.5,"y":4,"y2":139},{"s":"G","x":611,"x2":622.3,"y":5,"y2":195},{"s":"G","x":684.7,"x2":689,"y":5,"y2":127},{"s":"o","x":684.7,"x2":689,"y":127,"y2":150},{"s":"P","x":634.7,"x2":644,"y":4,"y2":195},
{"s":"W","x":634.7,"x2":644,"y":23,"y2":24},{"s":"A","x":634.7,"x2":644,"y":29,"y2":30},{"s":"W","x":634.7,"x2":644,"y":40,"y2":41},{"s":"W","x":634.7,"x2":644,"y":58,"y2":60},{"s":"W","x":634.7,"x2":644,"y":87,"y2":88},{"s":"o","x":634.7,"x2":644,"y":99,"y2":100},{"s":"o","x":634.7,"x2":644,"y":112,"y2":113},{"s":"W","x":634.7,"x2":644,"y":137,"y2":138},{"s":"W","x":634.7,"x2":644,"y":150,"y2":151},{"s":"l","x":634.7,"x2":644,"y":177,"y2":178},
{"s":"W","x":236,"x2":243,"y":136,"y2":138},{"s":"W","x":286,"x2":305,"y":137,"y2":138},{"s":"W","x":456.5,"x2":464,"y":38,"y2":39},{"s":"W","x":456.5,"x2":464,"y":105,"y2":106},{"s":"W","x":456.5,"x2":464,"y":136,"y2":137},{"s":"W","x":526.7,"x2":547.5,"y":136,"y2":137.5},{"s":"W","x":553,"x2":572,"y":127,"y2":128},{"s":"W","x":553,"x2":572,"y":136,"y2":137.5},{"s":"W","x":566,"x2":567,"y":156,"y2":168},{"s":"W","x":699,"x2":712,"y":137,"y2":141},
{"s":"A","x":77.5,"x2":104,"y":137,"y2":138.5},{"s":"A","x":110,"x2":131.5,"y":136,"y2":139},{"s":"A","x":113,"x2":131,"y":11,"y2":12},{"s":"W","x":119,"x2":130,"y":79,"y2":80},{"s":"L","x":78,"x2":88,"y":36,"y2":37},{"s":"L","x":78,"x2":84,"y":48,"y2":49},{"s":"G","x":78,"x2":84,"y":124,"y2":125},
{"s":"G","x":133,"x2":185.5,"y":135,"y2":138},{"s":"A","x":133,"x2":153,"y":135,"y2":136},{"s":"L","x":133,"x2":185,"y":4,"y2":5},{"s":"l","x":133,"x2":185,"y":139,"y2":141},{"s":"G","x":169,"x2":186,"y":30,"y2":31},{"s":"G","x":133,"x2":153,"y":126,"y2":127},{"s":"L","x":172,"x2":185,"y":126,"y2":127},{"s":"L","x":133,"x2":152,"y":194,"y2":195},
{"s":"L","x":187.5,"x2":229,"y":4,"y2":5},{"s":"o","x":188,"x2":199,"y":8,"y2":9},{"s":"G","x":188,"x2":199,"y":107,"y2":108},{"s":"o","x":188,"x2":199,"y":110,"y2":111},{"s":"L","x":188,"x2":203,"y":114,"y2":115},{"s":"L","x":218,"x2":230,"y":108,"y2":109},{"s":"L","x":218,"x2":230,"y":121,"y2":122},{"s":"A","x":188,"x2":199,"y":128,"y2":130},{"s":"G","x":188,"x2":219,"y":138,"y2":139},{"s":"G","x":217,"x2":230,"y":135,"y2":137},{"s":"L","x":188,"x2":192,"y":36,"y2":37},
{"s":"A","x":243,"x2":273.5,"y":135,"y2":139},{"s":"G","x":243,"x2":273.5,"y":132,"y2":134},{"s":"L","x":243,"x2":273,"y":4,"y2":5},{"s":"l","x":243,"x2":273,"y":140,"y2":141},{"s":"L","x":245,"x2":258,"y":124,"y2":125},{"s":"l","x":245,"x2":272,"y":183,"y2":184},
{"s":"G","x":276,"x2":286,"y":135,"y2":137},{"s":"A","x":305,"x2":314,"y":136,"y2":137.5},{"s":"G","x":277,"x2":283,"y":144,"y2":146},{"s":"G","x":277,"x2":283,"y":41,"y2":42},{"s":"L","x":277,"x2":283,"y":76,"y2":77},{"s":"L","x":305,"x2":314,"y":140,"y2":141},
{"s":"G","x":316.5,"x2":353,"y":136,"y2":137},{"s":"A","x":316.5,"x2":353,"y":138,"y2":139},{"s":"L","x":329,"x2":353,"y":106,"y2":107},{"s":"L","x":332,"x2":353,"y":125,"y2":126},{"s":"L","x":317,"x2":325,"y":119,"y2":120},{"s":"L","x":335,"x2":353,"y":4,"y2":5},
{"s":"G","x":355.5,"x2":389.5,"y":136.5,"y2":138.5},{"s":"A","x":356,"x2":366,"y":38,"y2":39},{"s":"G","x":370,"x2":382,"y":17,"y2":18},{"s":"G","x":378,"x2":383,"y":60,"y2":61},{"s":"G","x":378,"x2":383,"y":68,"y2":69},{"s":"G","x":356,"x2":368,"y":106,"y2":107},{"s":"o","x":358,"x2":366,"y":108,"y2":109},{"s":"L","x":355.5,"x2":360,"y":144,"y2":150},{"s":"G","x":360,"x2":369,"y":162,"y2":163},{"s":"L","x":355.5,"x2":359.7,"y":180,"y2":183},{"s":"A","x":356,"x2":367,"y":190,"y2":191},{"s":"L","x":355.5,"x2":362,"y":199,"y2":201},{"s":"G","x":370,"x2":389,"y":143,"y2":144},{"s":"L","x":370,"x2":377,"y":184,"y2":185},
{"s":"G","x":391.5,"x2":422.5,"y":135,"y2":140},{"s":"G","x":391.5,"x2":422,"y":122,"y2":123},{"s":"G","x":391.5,"x2":422,"y":126,"y2":127.5},{"s":"L","x":392,"x2":422,"y":106,"y2":107},{"s":"G","x":396,"x2":423,"y":105,"y2":106},{"s":"L","x":392,"x2":400,"y":34,"y2":35},{"s":"L","x":392,"x2":398,"y":37,"y2":38},{"s":"L","x":392,"x2":397,"y":79,"y2":80},{"s":"L","x":392,"x2":398,"y":165,"y2":166},{"s":"G","x":400,"x2":410,"y":10,"y2":11},
{"s":"G","x":424.5,"x2":454,"y":136,"y2":138},{"s":"L","x":424.5,"x2":454,"y":140,"y2":141.5},{"s":"G","x":439,"x2":453,"y":122,"y2":123},{"s":"G","x":440,"x2":452,"y":112,"y2":113},{"s":"l","x":440,"x2":452,"y":106,"y2":107},{"s":"G","x":450,"x2":454,"y":156,"y2":169},{"s":"G","x":450,"x2":454,"y":186,"y2":189},{"s":"G","x":450,"x2":454,"y":193,"y2":196},{"s":"G","x":449,"x2":454,"y":142,"y2":145},{"s":"G","x":448,"x2":452,"y":36,"y2":37},
{"s":"G","x":475,"x2":483,"y":156,"y2":169},{"s":"G","x":475,"x2":483,"y":186,"y2":189},{"s":"G","x":475,"x2":483,"y":192,"y2":195},{"s":"G","x":470,"x2":486,"y":136,"y2":141},{"s":"G","x":475,"x2":483,"y":141,"y2":143},{"s":"G","x":475,"x2":482,"y":36,"y2":37},{"s":"G","x":478,"x2":484,"y":70,"y2":71},{"s":"G","x":475,"x2":484,"y":120,"y2":121},{"s":"L","x":466,"x2":477,"y":146,"y2":147},
{"s":"A","x":487.5,"x2":516.5,"y":136,"y2":138},{"s":"L","x":487.5,"x2":516,"y":140,"y2":141.5},{"s":"L","x":488,"x2":497,"y":120,"y2":121},{"s":"G","x":488,"x2":497,"y":144,"y2":145},{"s":"G","x":488,"x2":497,"y":147,"y2":148},{"s":"L","x":488,"x2":498,"y":161,"y2":163},{"s":"G","x":488,"x2":495,"y":155,"y2":156},{"s":"L","x":488,"x2":494,"y":36,"y2":37},
{"s":"G","x":518.5,"x2":527,"y":120,"y2":123},{"s":"L","x":518.5,"x2":526,"y":130,"y2":131},{"s":"G","x":518.5,"x2":526,"y":136,"y2":137},
{"s":"G","x":575.5,"x2":598,"y":136,"y2":138.5},{"s":"G","x":578,"x2":598,"y":127,"y2":128.5},{"s":"L","x":580,"x2":596,"y":120,"y2":121},{"s":"L","x":582,"x2":597,"y":109,"y2":110},{"s":"L","x":593,"x2":598,"y":150,"y2":160},{"s":"L","x":595,"x2":598,"y":163,"y2":169},{"s":"L","x":585,"x2":595,"y":186,"y2":187},{"s":"L","x":590,"x2":598,"y":194,"y2":195},{"s":"A","x":600,"x2":622,"y":136,"y2":139},{"s":"G","x":600,"x2":632,"y":127,"y2":128.5},{"s":"W","x":613,"x2":622,"y":145,"y2":147},{"s":"G","x":625,"x2":634,"y":136,"y2":138},{"s":"G","x":625,"x2":634,"y":122,"y2":123},{"s":"D","x":634,"x2":644,"y":140,"y2":142},
{"s":"L","x":645.5,"x2":648,"y":4,"y2":140},{"s":"G","x":645.5,"x2":663.5,"y":136,"y2":137},{"s":"G","x":648,"x2":660,"y":128,"y2":129},{"s":"L","x":645.5,"x2":650,"y":133,"y2":136},
{"s":"L","x":670,"x2":682,"y":143,"y2":150},{"s":"G","x":665.5,"x2":682,"y":136,"y2":138},{"s":"L","x":670,"x2":682,"y":155,"y2":168},{"s":"W","x":673,"x2":674,"y":155,"y2":168},{"s":"W","x":677,"x2":678,"y":155,"y2":168},{"s":"L","x":671,"x2":682,"y":180,"y2":183},{"s":"L","x":672,"x2":680,"y":185,"y2":187},{"s":"L","x":672,"x2":680,"y":193,"y2":195},{"s":"R","x":666,"x2":672,"y":185,"y2":186},{"s":"L","x":670,"x2":682,"y":116,"y2":118},{"s":"L","x":670,"x2":682,"y":122,"y2":123},{"s":"L","x":668,"x2":680,"y":36,"y2":37},{"s":"G","x":666,"x2":679,"y":14,"y2":15},{"s":"G","x":668,"x2":680,"y":125,"y2":126},{"s":"L","x":674,"x2":682,"y":130,"y2":131},
{"s":"G","x":684.7,"x2":697,"y":137,"y2":139},{"s":"W","x":699,"x2":703,"y":136,"y2":141},{"s":"G","x":705,"x2":708,"y":120,"y2":124},{"s":"G","x":705,"x2":708,"y":35,"y2":36},{"s":"D","x":708,"x2":712,"y":140,"y2":142},
{"s":"G","x":716,"x2":722,"y":61,"y2":62},{"s":"M","x":716,"x2":717,"y":4,"y2":202},{"s":"G","x":714.5,"x2":724,"y":138,"y2":139},{"s":"l","x":732,"x2":737,"y":6,"y2":50},{"s":"L","x":731,"x2":735,"y":39,"y2":40},{"s":"G","x":727,"x2":733,"y":137,"y2":138},{"s":"G","x":727,"x2":731,"y":121,"y2":122},{"s":"L","x":729,"x2":736,"y":131,"y2":132},{"s":"L","x":729,"x2":736,"y":140,"y2":141},
{"s":"G","x":739,"x2":772.5,"y":135.5,"y2":138},{"s":"G","x":764,"x2":771,"y":19,"y2":20},{"s":"L","x":739,"x2":746,"y":144,"y2":145},{"s":"o","x":739,"x2":743,"y":120,"y2":121},
{"s":"D","x":775.7,"x2":780,"y":2,"y2":195},{"s":"l","x":780,"x2":781.5,"y":2,"y2":195},{"s":"W","x":775.7,"x2":781.5,"y":195,"y2":202}
]},"mark":{"type":"rect"},"encoding":{"x":{"field":"x","type":"quantitative"},"x2":{"field":"x2"},"y":{"field":"y","type":"quantitative"},"y2":{"field":"y2"},"color":{"field":"s","type":"nominal","scale":{"domain":["L","P","G","A","W","D","l","o","M","C","tO","tG","R"],"range":["#5b95fb","#4a86ee","#e29300","#c9360a","#fdfdfb","#2a50cc","#bcd3fb","#f0bf74","#d8a090","#c8ced2","#dc5f00","#7d8c8c","#e03030"]}}}},
{"data":{"name":"chroms"},"mark":{"type":"rect","fill":null,"stroke":"#444","strokeWidth":1},"encoding":{"x":{"field":"x","type":"quantitative"},"x2":{"field":"x2"},"y":{"datum":0},"y2":{"datum":202}}},
{"data":{"values":[{"s":"tO","x":47,"x2":55,"y":78,"y2":101}]},"mark":{"type":"rect"},"encoding":{"x":{"field":"x","type":"quantitative"},"x2":{"field":"x2"},"y":{"field":"y","type":"quantitative"},"y2":{"field":"y2"},"color":{"field":"s","type":"nominal"}}},
{"data":{"values":[{"y":0,"y2":140},{"y":140,"y2":202}]},"mark":{"type":"rect","fill":null,"stroke":"#444","strokeWidth":1},"encoding":{"x":{"datum":34.5},"x2":{"datum":72},"y":{"field":"y","type":"quantitative"},"y2":{"field":"y2"}}},
{"data":{"values":[{"s":"tO","x":36.3,"x2":36.3,"y":20,"y2":107},{"s":"tO","x":36.3,"x2":45.7,"y":20,"y2":20},{"s":"tO","x":45.7,"x2":45.7,"y":10,"y2":28},{"s":"tO","x":45.7,"x2":55.7,"y":10,"y2":10},{"s":"tO","x":55.7,"x2":55.7,"y":5.5,"y2":15},{"s":"tO","x":55.7,"x2":71.3,"y":5.5,"y2":5.5},{"s":"tO","x":55.7,"x2":71.3,"y":15,"y2":15},{"s":"tO","x":45.7,"x2":53.7,"y":28,"y2":28},{"s":"tO","x":53.7,"x2":53.7,"y":26,"y2":35},{"s":"tO","x":53.7,"x2":71.3,"y":26,"y2":26},{"s":"tO","x":53.7,"x2":71.3,"y":35,"y2":35},{"s":"tO","x":36.3,"x2":47,"y":107,"y2":107},{"s":"tO","x":47,"x2":47,"y":78,"y2":136},{"s":"tO","x":49,"x2":49,"y":45,"y2":78},{"s":"tO","x":49,"x2":71.3,"y":45,"y2":45},{"s":"tO","x":57,"x2":71.3,"y":56,"y2":56},{"s":"tO","x":57,"x2":57,"y":56,"y2":65},{"s":"tO","x":54.7,"x2":71.3,"y":65,"y2":65},{"s":"tO","x":54.7,"x2":54.7,"y":65,"y2":95},{"s":"tO","x":58,"x2":58,"y":65,"y2":84},{"s":"tO","x":58,"x2":71.3,"y":75,"y2":75},{"s":"tO","x":58,"x2":71.3,"y":84,"y2":84},{"s":"tO","x":56.3,"x2":71.3,"y":95,"y2":95},{"s":"tO","x":56.3,"x2":71.3,"y":105,"y2":105},{"s":"tO","x":56.3,"x2":56.3,"y":95,"y2":105},{"s":"tO","x":52.3,"x2":71.3,"y":117,"y2":117},{"s":"tO","x":52.3,"x2":52.3,"y":95,"y2":124},{"s":"tO","x":52.3,"x2":71.3,"y":124,"y2":124},{"s":"tO","x":47,"x2":71.3,"y":136,"y2":136},
{"s":"tG","x":36.3,"x2":36.3,"y":141,"y2":199},{"s":"tG","x":38,"x2":71.3,"y":144,"y2":144},{"s":"tG","x":38,"x2":71.3,"y":149,"y2":149},{"s":"tG","x":38,"x2":71.3,"y":153,"y2":153},{"s":"tG","x":38,"x2":71.3,"y":157,"y2":157},{"s":"tG","x":38,"x2":71.3,"y":162,"y2":162},{"s":"tG","x":38,"x2":71.3,"y":166,"y2":166},{"s":"tG","x":38,"x2":71.3,"y":170,"y2":170},{"s":"tG","x":38,"x2":38,"y":144,"y2":170},{"s":"tG","x":44.7,"x2":44.7,"y":177,"y2":199},{"s":"tG","x":36.3,"x2":71.3,"y":199,"y2":199},{"s":"tG","x":49.7,"x2":71.3,"y":177,"y2":177},{"s":"tG","x":49.7,"x2":49.7,"y":177,"y2":190},{"s":"tG","x":44.7,"x2":71.3,"y":190,"y2":190},{"s":"tG","x":61.3,"x2":61.3,"y":182,"y2":195},{"s":"tG","x":61.3,"x2":71.3,"y":182,"y2":182},{"s":"tG","x":61.3,"x2":71.3,"y":186,"y2":186},{"s":"tG","x":61.3,"x2":71.3,"y":195,"y2":195}]},"mark":{"type":"rule","size":3},"encoding":{"x":{"field":"x","type":"quantitative"},"x2":{"field":"x2"},"y":{"field":"y","type":"quantitative"},"y2":{"field":"y2"},"color":{"field":"s","type":"nominal"}}},
{"data":{"name":"chroms"},"transform":[{"filter":"datum.t==1"}],"mark":{"type":"text","fontSize":11.5},"encoding":{"x":{"field":"m","type":"quantitative"},"y":{"datum":-7.5},"text":{"field":"n"}}},
{"data":{"name":"chroms"},"transform":[{"filter":"datum.t==2"}],"mark":{"type":"text","fontSize":11.5},"encoding":{"x":{"field":"m","type":"quantitative"},"y":{"datum":-16.1},"text":{"field":"n"}}},
{"data":{"values":[{"t":"Postinduction"}]},"mark":{"type":"text","fontSize":18.5},"encoding":{"x":{"datum":424.5},"y":{"datum":-30.5},"text":{"field":"t"}}},
{"data":{"values":[{"t":"202 cells"}]},"mark":{"type":"text","fontSize":14,"angle":270},"encoding":{"x":{"datum":24},"y":{"datum":85},"text":{"field":"t"}}},
{"data":{"values":[{"t":"Scale: 80 cells"}]},"mark":{"type":"text","fontSize":14,"angle":270},"encoding":{"x":{"datum":809.7},"y":{"datum":152},"text":{"field":"t"}}},
{"data":{"values":[{"x":798.7,"x2":798.7,"y":110.5,"y2":190.5},{"x":795.7,"x2":801.7,"y":110.5,"y2":110.5},{"x":795.7,"x2":801.7,"y":190.5,"y2":190.5}]},"mark":{"type":"rule","size":2,"color":"#111"},"encoding":{"x":{"field":"x","type":"quantitative"},"x2":{"field":"x2"},"y":{"field":"y","type":"quantitative"},"y2":{"field":"y2"}}},
{"data":{"values":[{"x":4,"y":-54.4,"y2":213.3},{"x":831.5,"y":-54.4,"y2":213.3}]},"mark":{"type":"rule","size":1.5,"color":"#333"},"encoding":{"x":{"field":"x","type":"quantitative"},"y":{"field":"y","type":"quantitative"},"y2":{"field":"y2"}}}
]},
{"width":830,"height":325,"layer":[
{"data":{"name":"chroms"},"mark":{"type":"rect","fill":"#f6f5f1"},"encoding":{"x":{"field":"x","type":"quantitative","scale":{"domain":[1.5,831.5],"nice":false,"zero":false}},"x2":{"field":"x2"},"y":{"datum":0,"scale":{"domain":[1008.2,-256.9],"nice":false,"zero":false}},"y2":{"datum":911}}},
{"data":{"values":[{"x":85,"y":120},{"x":100,"y":300},{"x":90,"y":510},{"x":96,"y":690},{"x":145,"y":200},{"x":170,"y":420},{"x":160,"y":640},{"x":200,"y":120},{"x":215,"y":520},{"x":225,"y":700},{"x":260,"y":80},{"x":250,"y":330},{"x":268,"y":620},{"x":310,"y":240},{"x":345,"y":330},{"x":325,"y":500},{"x":340,"y":720},{"x":415,"y":300},{"x":400,"y":580},{"x":448,"y":400},{"x":475,"y":210},{"x":480,"y":690},{"x":505,"y":150},{"x":590,"y":300},{"x":585,"y":620},{"x":658,"y":300},{"x":654,"y":560},{"x":720,"y":400},{"x":733,"y":330},{"x":745,"y":420}]},"mark":{"type":"square","size":2.5,"color":"#a9c4f5","opacity":0.8},"encoding":{"x":{"field":"x","type":"quantitative"},"y":{"field":"y","type":"quantitative"}}},
{"data":{"values":[{"x":90,"y":200},{"x":98,"y":410},{"x":150,"y":150},{"x":165,"y":350},{"x":176,"y":560},{"x":212,"y":240},{"x":222,"y":450},{"x":255,"y":220},{"x":262,"y":530},{"x":340,"y":100},{"x":322,"y":630},{"x":375,"y":230},{"x":410,"y":180},{"x":445,"y":300},{"x":470,"y":60},{"x":480,"y":560},{"x":510,"y":290},{"x":592,"y":470},{"x":650,"y":200},{"x":657,"y":750}]},"mark":{"type":"square","size":2.5,"color":"#efc27c","opacity":0.85},"encoding":{"x":{"field":"x","type":"quantitative"},"y":{"field":"y","type":"quantitative"}}},
{"data":{"name":"cens"},"mark":{"type":"rect","fill":"#c8ced2"},"encoding":{"x":{"field":"x","type":"quantitative"},"x2":{"field":"x2"},"y":{"datum":9},"y2":{"datum":911}}},
{"data":{"name":"solids"},"mark":{"type":"rect","fill":"#5b95fb"},"encoding":{"x":{"field":"x","type":"quantitative"},"x2":{"field":"x2"},"y":{"datum":9},"y2":{"datum":911}}},
{"data":{"name":"chroms"},"mark":{"type":"rect","fill":"#d9540c"},"encoding":{"x":{"field":"x","type":"quantitative"},"x2":{"field":"x2"},"y":{"datum":0},"y2":{"datum":9}}},
{"data":{"values":[
{"s":"G","x":739,"x2":772.5,"y":0,"y2":9},{"s":"W","x":526.7,"x2":547.5,"y":0,"y2":9},{"s":"W","x":552.5,"x2":573.5,"y":0,"y2":9},{"s":"W","x":232.5,"x2":242.5,"y":0,"y2":9},{"s":"W","x":699,"x2":705,"y":0,"y2":9},{"s":"W","x":456.5,"x2":463,"y":0,"y2":9},{"s":"W","x":286,"x2":305,"y":4,"y2":9},
{"s":"G","x":110,"x2":131.5,"y":9,"y2":845},{"s":"G","x":611,"x2":622.3,"y":9,"y2":911},{"s":"G","x":77.5,"x2":82.5,"y":750,"y2":835},{"s":"G","x":78,"x2":83,"y":450,"y2":465},{"s":"G","x":78,"x2":83,"y":20,"y2":24},{"s":"G","x":78,"x2":83,"y":40,"y2":43},{"s":"G","x":78,"x2":83,"y":162,"y2":166},{"s":"G","x":78,"x2":81,"y":570,"y2":574},{"s":"G","x":78,"x2":81,"y":590,"y2":596},{"s":"G","x":78,"x2":81,"y":655,"y2":660},{"s":"o","x":78,"x2":104,"y":68,"y2":70},{"s":"A","x":121,"x2":131,"y":50,"y2":52},{"s":"l","x":77.5,"x2":131.5,"y":845,"y2":850},{"s":"G","x":110,"x2":119,"y":888,"y2":905},{"s":"o","x":110,"x2":125,"y":870,"y2":872},{"s":"L","x":101,"x2":104,"y":888,"y2":905},
{"s":"G","x":133,"x2":152,"y":740,"y2":744},{"s":"L","x":133,"x2":150,"y":692,"y2":694},{"s":"o","x":133,"x2":142,"y":190,"y2":192},{"s":"l","x":152,"x2":154,"y":9,"y2":911},{"s":"l","x":133,"x2":185,"y":845,"y2":849},{"s":"o","x":150,"x2":176,"y":850,"y2":852},{"s":"l","x":175,"x2":185,"y":535,"y2":537},
{"s":"L","x":187.5,"x2":200.5,"y":10,"y2":17},{"s":"L","x":187.5,"x2":201,"y":90,"y2":97},{"s":"G","x":187.5,"x2":205,"y":683,"y2":690},{"s":"L","x":196.5,"x2":205,"y":757,"y2":835},{"s":"L","x":199,"x2":205,"y":750,"y2":757},{"s":"o","x":187,"x2":196,"y":515,"y2":517},{"s":"o","x":218,"x2":230,"y":535,"y2":537},{"s":"L","x":218,"x2":230,"y":535,"y2":538},{"s":"l","x":198,"x2":206,"y":520,"y2":526},{"s":"G","x":208,"x2":216,"y":850,"y2":852},{"s":"o","x":218,"x2":229,"y":660,"y2":662},{"s":"l","x":216,"x2":229,"y":115,"y2":117},{"s":"l","x":188,"x2":199,"y":905,"y2":908},{"s":"o","x":218,"x2":230,"y":160,"y2":162},
{"s":"L","x":253,"x2":273,"y":68,"y2":71},{"s":"o","x":248,"x2":273,"y":748,"y2":750},{"s":"o","x":260,"x2":273,"y":125,"y2":127},{"s":"l","x":243,"x2":273,"y":845,"y2":848},
{"s":"L","x":275,"x2":285,"y":695,"y2":737},{"s":"l","x":276,"x2":285,"y":10,"y2":20},{"s":"G","x":310,"x2":314,"y":150,"y2":153},{"s":"L","x":276,"x2":279,"y":875,"y2":885},{"s":"l","x":276,"x2":285,"y":843,"y2":848},{"s":"l","x":305,"x2":314,"y":35,"y2":40},
{"s":"L","x":330,"x2":353,"y":10,"y2":22},{"s":"L","x":330,"x2":353,"y":47,"y2":62},{"s":"L","x":330,"x2":346,"y":685,"y2":689},{"s":"L","x":330,"x2":347,"y":750,"y2":753},{"s":"L","x":330,"x2":359,"y":845,"y2":863},{"s":"o","x":337,"x2":344,"y":494,"y2":497},{"s":"l","x":317,"x2":323,"y":130,"y2":135},{"s":"o","x":317,"x2":323,"y":128,"y2":130},
{"s":"G","x":380,"x2":390,"y":25,"y2":37},{"s":"L","x":356,"x2":364,"y":22,"y2":30},{"s":"G","x":356,"x2":369,"y":40,"y2":42},{"s":"G","x":356,"x2":370,"y":530,"y2":538},{"s":"o","x":370,"x2":389,"y":100,"y2":102},{"s":"G","x":372,"x2":386,"y":165,"y2":167},{"s":"G","x":356,"x2":365,"y":70,"y2":72},{"s":"G","x":356,"x2":389,"y":905,"y2":911},{"s":"L","x":358,"x2":365,"y":745,"y2":748},{"s":"o","x":370,"x2":382,"y":750,"y2":752},
{"s":"L","x":391.5,"x2":400.5,"y":20,"y2":38},{"s":"L","x":391.5,"x2":400.5,"y":100,"y2":107},{"s":"L","x":391.5,"x2":400.5,"y":757,"y2":837},{"s":"L","x":391.5,"x2":397,"y":845,"y2":865},{"s":"l","x":401,"x2":422,"y":838,"y2":842},{"s":"o","x":391,"x2":400,"y":730,"y2":733},{"s":"l","x":391.5,"x2":398,"y":60,"y2":62},{"s":"l","x":392,"x2":400,"y":560,"y2":562},{"s":"o","x":402,"x2":422,"y":35,"y2":37},{"s":"l","x":411,"x2":422,"y":530,"y2":532},
{"s":"L","x":425,"x2":432,"y":10,"y2":17},{"s":"G","x":425,"x2":430,"y":177,"y2":182},{"s":"L","x":425,"x2":431,"y":185,"y2":190},{"s":"L","x":425,"x2":432,"y":545,"y2":552},{"s":"G","x":439,"x2":455,"y":74,"y2":87},{"s":"o","x":439,"x2":452,"y":60,"y2":65},{"s":"G","x":439,"x2":455,"y":525,"y2":529},{"s":"l","x":425,"x2":433,"y":100,"y2":103},
{"s":"o","x":478,"x2":485,"y":565,"y2":568},{"s":"G","x":466,"x2":485,"y":660,"y2":663},{"s":"l","x":466,"x2":481,"y":735,"y2":737},{"s":"o","x":480,"x2":483,"y":72,"y2":80},
{"s":"L","x":503,"x2":506,"y":757,"y2":835},{"s":"L","x":503,"x2":506,"y":20,"y2":40},{"s":"L","x":503,"x2":506,"y":105,"y2":108},{"s":"o","x":488,"x2":498,"y":150,"y2":152},{"s":"o","x":508,"x2":516,"y":535,"y2":537},{"s":"o","x":510,"x2":516,"y":855,"y2":857},{"s":"L","x":503,"x2":507,"y":74,"y2":76},
{"s":"l","x":555,"x2":573,"y":95,"y2":98},{"s":"l","x":580,"x2":597,"y":845,"y2":848},{"s":"G","x":593,"x2":598,"y":880,"y2":885},{"s":"L","x":578,"x2":582,"y":395,"y2":398},{"s":"G","x":580,"x2":585,"y":825,"y2":828},{"s":"M","x":605,"x2":606,"y":9,"y2":911},{"s":"W","x":613,"x2":622,"y":495,"y2":497},{"s":"W","x":612,"x2":622,"y":750,"y2":752},{"s":"l","x":604,"x2":622,"y":675,"y2":677},{"s":"W","x":613,"x2":620,"y":25,"y2":27},{"s":"W","x":613,"x2":620,"y":75,"y2":77},
{"s":"L","x":634.7,"x2":644,"y":16,"y2":70},{"s":"W","x":634.7,"x2":644,"y":70,"y2":88},{"s":"L","x":634.7,"x2":644,"y":88,"y2":530},{"s":"W","x":634.7,"x2":644,"y":540,"y2":545},{"s":"G","x":634.7,"x2":644,"y":537,"y2":541},{"s":"L","x":634.7,"x2":644,"y":530,"y2":537},{"s":"L","x":634.7,"x2":644,"y":672,"y2":676},{"s":"L","x":634.7,"x2":644,"y":690,"y2":694},{"s":"o","x":634.7,"x2":644,"y":680,"y2":684},{"s":"L","x":634.7,"x2":644,"y":735,"y2":745},{"s":"A","x":634.7,"x2":644,"y":757,"y2":759},{"s":"L","x":634.7,"x2":644,"y":825,"y2":835},{"s":"L","x":634.7,"x2":644,"y":845,"y2":865},{"s":"L","x":634.7,"x2":644,"y":885,"y2":911},{"s":"l","x":631,"x2":634,"y":9,"y2":911},{"s":"L","x":624.5,"x2":626,"y":845,"y2":865},{"s":"G","x":634.7,"x2":644,"y":14,"y2":17},
{"s":"L","x":645.5,"x2":648.5,"y":9,"y2":911},{"s":"l","x":652,"x2":662,"y":90,"y2":92},{"s":"o","x":652,"x2":664,"y":510,"y2":512},{"s":"o","x":652,"x2":664,"y":750,"y2":752},
{"s":"l","x":670,"x2":682,"y":20,"y2":24},{"s":"o","x":670,"x2":682,"y":55,"y2":62},{"s":"L","x":673,"x2":677,"y":85,"y2":97},{"s":"L","x":672,"x2":682,"y":110,"y2":125},{"s":"G","x":667,"x2":682,"y":133,"y2":143},{"s":"L","x":673,"x2":677,"y":460,"y2":480},{"s":"L","x":672,"x2":682,"y":660,"y2":668},{"s":"o","x":668,"x2":676,"y":660,"y2":662},{"s":"l","x":672,"x2":682,"y":640,"y2":642},{"s":"L","x":671,"x2":682,"y":845,"y2":868},{"s":"l","x":668,"x2":682,"y":868,"y2":872},{"s":"L","x":666,"x2":667.5,"y":20,"y2":911},{"s":"l","x":667.5,"x2":670,"y":9,"y2":911},{"s":"l","x":670,"x2":682,"y":900,"y2":903},
{"s":"G","x":684.5,"x2":689,"y":9,"y2":911},{"s":"W","x":684.5,"x2":689,"y":845,"y2":868},{"s":"W","x":684.5,"x2":689,"y":880,"y2":885},{"s":"W","x":684.5,"x2":689,"y":85,"y2":88},{"s":"A","x":705,"x2":707,"y":720,"y2":760},{"s":"G","x":705,"x2":707,"y":845,"y2":865},{"s":"l","x":705,"x2":707,"y":9,"y2":700},{"s":"M","x":713,"x2":717.5,"y":9,"y2":911},{"s":"o","x":718,"x2":724,"y":150,"y2":152},{"s":"M","x":729,"x2":730,"y":9,"y2":911},{"s":"l","x":731,"x2":737,"y":840,"y2":852},{"s":"L","x":732,"x2":735,"y":845,"y2":850},{"s":"o","x":731,"x2":737,"y":535,"y2":537},
{"s":"o","x":739,"x2":746,"y":670,"y2":672},{"s":"o","x":767,"x2":772,"y":150,"y2":152},{"s":"o","x":769,"x2":772,"y":500,"y2":502},{"s":"l","x":745,"x2":758,"y":843,"y2":845},{"s":"o","x":739,"x2":745,"y":25,"y2":27},
{"s":"D","x":775.7,"x2":780,"y":0,"y2":911},{"s":"l","x":780,"x2":782,"y":0,"y2":911},{"s":"C","x":782,"x2":787.5,"y":0,"y2":20},{"s":"C","x":774.5,"x2":775.7,"y":0,"y2":20},
{"s":"tO","x":65,"x2":71,"y":393,"y2":809},{"s":"tG","x":33.8,"x2":72,"y":841,"y2":911},{"s":"W","x":35,"x2":50,"y":852,"y2":858},{"s":"W","x":37.5,"x2":51,"y":874,"y2":906},{"s":"W","x":52,"x2":60,"y":853,"y2":858},{"s":"W","x":55,"x2":58,"y":880,"y2":884}
]},"mark":{"type":"rect"},"encoding":{"x":{"field":"x","type":"quantitative"},"x2":{"field":"x2"},"y":{"field":"y","type":"quantitative"},"y2":{"field":"y2"},"color":{"field":"s","type":"nominal","scale":{"domain":["L","P","G","A","W","D","l","o","M","C","tO","tG"],"range":["#5b95fb","#4a86ee","#e29300","#c9360a","#fdfdfb","#2a50cc","#bcd3fb","#f0bf74","#d8a090","#c8ced2","#dc5f00","#7d8c8c"]}}}},
{"data":{"name":"chroms"},"mark":{"type":"rect","fill":null,"stroke":"#8a8a8a","strokeWidth":1.2},"encoding":{"x":{"field":"x","type":"quantitative"},"x2":{"field":"x2"},"y":{"datum":0},"y2":{"datum":911}}},
{"data":{"values":[{"y":0,"y2":841},{"y":841,"y2":911}]},"mark":{"type":"rect","fill":null,"stroke":"#444","strokeWidth":1},"encoding":{"x":{"datum":33.8},"x2":{"datum":72},"y":{"field":"y","type":"quantitative"},"y2":{"field":"y2"}}},
{"data":{"values":[{"s":"tO","x":34.8,"x2":47.5,"y":100,"y2":100},{"s":"tO","x":34.8,"x2":34.8,"y":100,"y2":499},{"s":"tO","x":34.8,"x2":63.2,"y":499,"y2":499},{"s":"tO","x":47.5,"x2":47.5,"y":13,"y2":191},{"s":"tO","x":47.5,"x2":72,"y":13,"y2":13},{"s":"tO","x":47.5,"x2":54.8,"y":191,"y2":191},{"s":"tO","x":54.8,"x2":54.8,"y":100,"y2":276},{"s":"tO","x":54.8,"x2":60.8,"y":100,"y2":100},{"s":"tO","x":60.8,"x2":60.8,"y":42,"y2":165},{"s":"tO","x":60.8,"x2":72,"y":42,"y2":42},{"s":"tO","x":60.8,"x2":64.8,"y":165,"y2":165},{"s":"tO","x":64.8,"x2":64.8,"y":74,"y2":211},{"s":"tO","x":64.8,"x2":72,"y":74,"y2":74},{"s":"tO","x":64.8,"x2":72,"y":107,"y2":107},{"s":"tO","x":64.8,"x2":72,"y":133,"y2":133},{"s":"tO","x":64.8,"x2":72,"y":172,"y2":172},{"s":"tO","x":64.8,"x2":72,"y":211,"y2":211},{"s":"tO","x":69.8,"x2":69.8,"y":74,"y2":211},{"s":"tO","x":54.8,"x2":64.8,"y":276,"y2":276},{"s":"tO","x":64.8,"x2":64.8,"y":237,"y2":295},{"s":"tO","x":64.8,"x2":72,"y":237,"y2":237},{"s":"tO","x":64.8,"x2":72,"y":269,"y2":269},{"s":"tO","x":64.8,"x2":72,"y":295,"y2":295},{"s":"tO","x":63.2,"x2":72,"y":325,"y2":325},{"s":"tO","x":63.2,"x2":63.2,"y":325,"y2":835},{"s":"tO","x":63.2,"x2":72,"y":835,"y2":835}]},"mark":{"type":"rule","size":3},"encoding":{"x":{"field":"x","type":"quantitative"},"x2":{"field":"x2"},"y":{"field":"y","type":"quantitative"},"y2":{"field":"y2"},"color":{"field":"s","type":"nominal"}}},
{"data":{"name":"chroms"},"transform":[{"filter":"datum.t==1"}],"mark":{"type":"text","fontSize":11.5},"encoding":{"x":{"field":"m","type":"quantitative"},"y":{"datum":-27},"text":{"field":"n"}}},
{"data":{"name":"chroms"},"transform":[{"filter":"datum.t==2"}],"mark":{"type":"text","fontSize":11.5},"encoding":{"x":{"field":"m","type":"quantitative"},"y":{"datum":-69},"text":{"field":"n"}}},
{"data":{"values":[{"t":"Relapse"}]},"mark":{"type":"text","fontSize":18.5},"encoding":{"x":{"datum":424.5},"y":{"datum":-144},"text":{"field":"t"}}},
{"data":{"values":[{"t":"911 Cells"}]},"mark":{"type":"text","fontSize":14,"angle":270},"encoding":{"x":{"datum":22.5},"y":{"datum":424},"text":{"field":"t"}}},
{"data":{"values":[{"t":"Scale: 364 cells"}]},"mark":{"type":"text","fontSize":14,"angle":270},"encoding":{"x":{"datum":809.5},"y":{"datum":697},"text":{"field":"t"}}},
{"data":{"values":[{"x":798.2,"x2":798.2,"y":528,"y2":892},{"x":795.2,"x2":801.2,"y":528,"y2":528},{"x":795.2,"x2":801.2,"y":892,"y2":892}]},"mark":{"type":"rule","size":2,"color":"#111"},"encoding":{"x":{"field":"x","type":"quantitative"},"x2":{"field":"x2"},"y":{"field":"y","type":"quantitative"},"y2":{"field":"y2"}}},
{"data":{"values":[{"x":2.5,"y":-256.9,"y2":1008.2},{"x":830,"y":-256.9,"y2":1008.2}]},"mark":{"type":"rule","size":1.5,"color":"#333"},"encoding":{"x":{"field":"x","type":"quantitative"},"y":{"field":"y","type":"quantitative"},"y2":{"field":"y2"}}}
]},
{"width":830,"height":305,"layer":[
{"data":{"name":"fish"},"mark":{"type":"area","interpolate":"monotone","stroke":"#8d9d9d","strokeWidth":0.8},"encoding":{"x":{"field":"x","type":"quantitative","scale":{"domain":[0,830],"nice":false,"zero":false}},"y":{"field":"y","type":"quantitative","scale":{"domain":[107.3,-51.56],"nice":false,"zero":false}},"y2":{"field":"y2"},"color":{"field":"k","type":"nominal","scale":{"domain":["grey","g1","cy","or","g2","g3","te","re","go","d8","d5","pi","pu"],"range":["#bcc6c6","#def8cd","#e8f9f7","#dd6600","#cdf3b5","#def8cd","#7ee5ae","#c80800","#e9b11f","#d64a00","#e07a00","#d13fc0","#a800d0"]}}}},
{"data":{"name":"lead"},"mark":{"type":"rule","size":1.1,"color":"#111"},"encoding":{"x":{"field":"x","type":"quantitative"},"x2":{"field":"x2"},"y":{"field":"y","type":"quantitative"},"y2":{"field":"y2"}}},
{"data":{"values":[{"x":305},{"x":517.3},{"x":703.7}]},"mark":{"type":"rule","size":2.5,"color":"#000"},"encoding":{"x":{"field":"x","type":"quantitative"},"y":{"datum":0},"y2":{"datum":100}}},
{"data":{"values":[{"t":"Diagnosis","x":301,"y":-5.4},{"t":"Postinduction","x":516,"y":-4.5},{"t":"Relapse","x":698.7,"y":-5.4}]},"mark":{"type":"text","fontSize":14},"encoding":{"x":{"field":"x","type":"quantitative"},"y":{"field":"y","type":"quantitative"},"text":{"field":"t"}}},
{"data":{"values":[{"t":"del(17p)","x":14.7,"y":25.3},{"t":"del(16q)","x":90,"y":25.3},{"t":"del(18q)","x":98.3,"y":76.1},{"t":"gain(1q)","x":185,"y":5.2},{"t":"gain(19p)","x":177.3,"y":25.3},{"t":"del(18q)","x":167.3,"y":33.8},{"t":"gain(10q)","x":197.3,"y":62.5},{"t":"del(8p)","x":605,"y":40.2},{"t":"del(5p)","x":603.3,"y":53.1}]},"mark":{"type":"text","fontSize":13.5,"align":"left"},"encoding":{"x":{"field":"x","type":"quantitative"},"y":{"field":"y","type":"quantitative"},"text":{"field":"t"}}},
{"data":{"values":[{"t":"gain(19p)","x":570,"y":9},{"t":"gain(16q)","x":522.7,"y":26.3},{"t":"del(6q)","x":566.7,"y":89.5}]},"mark":{"type":"text","fontSize":13.5,"align":"left","color":"#ffffff"},"encoding":{"x":{"field":"x","type":"quantitative"},"y":{"field":"y","type":"quantitative"},"text":{"field":"t"}}},
{"data":{"values":[{"t":"B"}]},"mark":{"type":"text","fontSize":26,"fontWeight":"bold","align":"left","color":"#111"},"encoding":{"x":{"datum":15},"y":{"datum":-33.3},"text":{"field":"t"}}},
{"data":{"values":[{"x":1,"x2":1,"y":-51.56,"y2":106.3},{"x":828.5,"x2":828.5,"y":-51.56,"y2":106.3},{"x":1,"x2":828.5,"y":106.3,"y2":106.3}]},"mark":{"type":"rule","size":1.5,"color":"#333"},"encoding":{"x":{"field":"x","type":"quantitative"},"x2":{"field":"x2"},"y":{"field":"y","type":"quantitative"},"y2":{"field":"y2"}}}
]}
]}
